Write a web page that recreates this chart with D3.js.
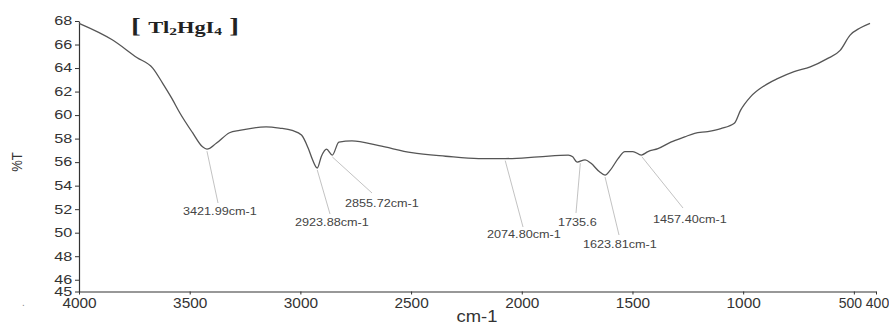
<!DOCTYPE html>
<html lang="en">
  <head>
    <meta charset="utf-8">
    <title>Tl2HgI4 IR spectrum</title>
    <script src="https://d3js.org/d3.v7.min.js"></script>
    <style>
      body { margin: 0; background: #fff; }
      svg { display: block; }
      .axis path, .axis line { stroke: #333; }
      .axis text { font-family: "Liberation Sans", Arial, sans-serif; fill: #333; }
    </style>
  </head>
  <body>
    <script>
      // wavenumber (cm-1) and transmittance (%T)
      var wavenumber = [4000, 3850, 3739, 3667, 3622, 3580, 3545, 3487, 3442, 3422,
                        3380, 3320, 3275, 3155, 3095, 3037, 2995, 2965, 2945, 2924,
                        2905, 2882, 2856, 2826, 2767, 2645, 2497, 2344, 2195, 2075,
                        1925, 1790, 1770, 1750, 1714, 1687, 1650, 1624, 1601, 1565,
                        1534, 1498, 1460, 1430, 1385, 1327, 1264, 1219, 1160, 1101,
                        1040, 1012, 967, 904, 845, 770, 697, 620, 562, 517, 472, 427];
      var transmittance = [67.8, 66.4, 64.9, 64.0, 62.7, 61.4, 60.2, 58.5, 57.3, 57.1,
                           57.6, 58.5, 58.7, 59.0, 58.9, 58.7, 58.3, 57.2, 56.2, 55.5,
                           56.5, 57.1, 56.6, 57.7, 57.8, 57.4, 56.8, 56.5, 56.3, 56.3,
                           56.45, 56.6, 56.45, 56.0, 56.2, 55.9, 55.2, 54.9, 55.3, 56.3,
                           56.9, 56.9, 56.6, 56.9, 57.15, 57.7, 58.15, 58.45, 58.6, 58.85,
                           59.3, 60.4, 61.55, 62.5, 63.1, 63.7, 64.1, 64.8, 65.5, 66.8, 67.4, 67.8];

      var xTicks = [4000, 3500, 3000, 2500, 2000, 1500, 1000, 500, 400];
      var yTicks = [45, 46, 48, 50, 52, 54, 56, 58, 60, 62, 64, 66, 68];

      var peakWn = [3421.99, 2923.88, 2855.72, 2074.80, 1735.6, 1623.81, 1457.40];
      var peakText = ["3421.99cm-1", "2923.88cm-1", "2855.72cm-1", "2074.80cm-1",
                      "1735.6", "1623.81cm-1", "1457.40cm-1"];

      // label placement in pixels: text x, baseline y, leader end x, y
      var labelPos = [[183, 215, 218, 203], [295, 226, 330, 214], [345, 207, 372, 193],
                      [487, 238, 523, 227], [558, 226, 576, 213], [583, 248, 619, 235],
                      [653, 223, 683, 208]];

      var width = 889,
          height = 325;

      var svg = d3.select("body").append("svg")
          .attr("width", width)
          .attr("height", height);

      var x = d3.scaleLinear().domain([4000, 400]).range([79, 876]);
      var y = d3.scaleLinear().domain([45, 68]).range([291.5, 21]);

      // axes
      var gx = svg.append("g")
          .attr("class", "axis")
          .attr("transform", "translate(0," + y(45) + ")")
          .call(d3.axisBottom(x).tickValues(xTicks).tickSize(3).tickPadding(4)
                .tickFormat(d3.format("d")).tickSizeOuter(0));
      gx.selectAll("text")
          .style("font-size", "14px")
          .attr("transform", function(d) {
            // the last two labels sit side by side as "500400"
            var dx = d === 500 ? -4 : d === 400 ? 1 : 0;
            return "translate(" + dx + ",0) scale(" + (d < 600 ? 1.0 : 1.1) + ",1)";
          });

      var gy = svg.append("g")
          .attr("class", "axis")
          .attr("transform", "translate(" + x(4000) + ",0)")
          .call(d3.axisLeft(y).tickValues(yTicks).tickSize(4).tickPadding(1)
                .tickFormat(d3.format("d")).tickSizeOuter(0));
      gy.selectAll("text")
          .style("font-size", "12px")
          .attr("x", -5)
          .attr("transform", "scale(1.35,1)");
      svg.selectAll(".axis path").attr("stroke-width", 1.2);

      // spectrum
      var pts = wavenumber.map(function(w, i) { return [w, transmittance[i]]; });
      var line = d3.line()
          .x(function(d) { return x(d[0]); })
          .y(function(d) { return y(d[1]); })
          .curve(d3.curveMonotoneX);

      svg.append("path")
          .datum(pts)
          .attr("fill", "none")
          .attr("stroke", "#555")
          .attr("stroke-width", 1.3)
          .attr("d", line);

      // value at a given wavenumber, from the series
      var tAt = d3.scaleLinear().domain(wavenumber).range(transmittance);

      // peak labels with leader lines
      var ann = svg.append("g");
      peakWn.forEach(function(w, i) {
        var p = labelPos[i];
        ann.append("line")
            .attr("x1", x(w))
            .attr("y1", y(tAt(w)) + 2)
            .attr("x2", p[2])
            .attr("y2", p[3])
            .attr("stroke", "#bbb")
            .attr("stroke-width", 0.9);
        ann.append("text")
            .attr("transform", "translate(" + p[0] + "," + p[1] + ") scale(1.1,1)")
            .style("font-family", "'Liberation Sans', Arial, sans-serif")
            .style("font-size", "11.5px")
            .attr("fill", "#444")
            .text(peakText[i]);
      });

      // axis titles
      svg.append("text")
          .attr("transform", "translate(22,162) rotate(-90) scale(1,1.1)")
          .attr("text-anchor", "middle")
          .style("font-family", "'Liberation Sans', Arial, sans-serif")
          .style("font-size", "13px")
          .attr("fill", "#333")
          .text("%T");

      svg.append("text")
          .attr("transform", "translate(477,322) scale(1.15,1)")
          .attr("text-anchor", "middle")
          .style("font-family", "'Liberation Sans', Arial, sans-serif")
          .style("font-size", "16px")
          .attr("fill", "#333")
          .text("cm-1");

      svg.append("text")
          .attr("x", 22).attr("y", 306)
          .style("font-family", "'Liberation Sans', Arial, sans-serif")
          .style("font-size", "10px")
          .attr("fill", "#888")
          .text(".");

      // compound title
      var title = svg.append("text")
          .attr("transform", "translate(131,33) scale(1.4,1)")
          .style("font-family", "'Liberation Serif', 'Times New Roman', serif")
          .style("font-weight", "bold")
          .attr("fill", "#222");
      title.append("tspan").style("font-size", "21px").text("[ ");
      title.append("tspan").style("font-size", "16px").text("Tl");
      title.append("tspan").style("font-size", "11px").attr("dy", 2).text("2");
      title.append("tspan").style("font-size", "16px").attr("dy", -2).text("HgI");
      title.append("tspan").style("font-size", "11px").attr("dy", 2).text("4");
      title.append("tspan").style("font-size", "21px").attr("dy", -2).text(" ]");
    </script>
  </body>
</html>
